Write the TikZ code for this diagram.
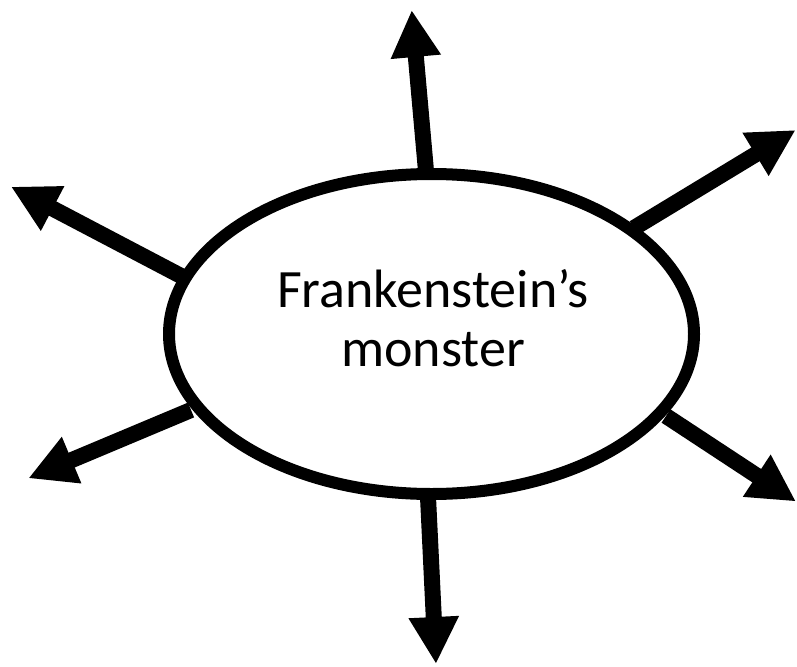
\documentclass[tikz,border=0pt]{standalone}
\usepackage{fontspec}
\setmainfont{Carlito}
\usetikzlibrary{arrows.meta,shapes.geometric}
\begin{document}
\begin{tikzpicture}[x=1pt,y=-1pt,
  arr/.style={line width=16pt, -{Triangle[length=47pt,width=47pt]}},
  hub/.style={draw, line width=12pt, ellipse, minimum width=525pt, minimum height=320pt, inner sep=0pt, outer sep=0pt, fill=white},
  lbl/.style={align=center, font=\fontsize{54}{58.5}\selectfont, inner sep=0pt}]
\useasboundingbox (0,0) rectangle (797,666);
% start points on the ellipse
\coordinate (s1) at (426,171);
\coordinate (s2) at (634,228);
\coordinate (s3) at (183,277);
\coordinate (s4) at (191,410);
\coordinate (s5) at (666,416);
\coordinate (s6) at (428,497);
% tips
\coordinate (t1) at (411.7,10);
\coordinate (t2) at (795.7,130);
\coordinate (t3) at (11,186.7);
\coordinate (t4) at (28.3,478.3);
\coordinate (t5) at (796,501.5);
\coordinate (t6) at (436,664);
\draw[arr] (s1) -- (t1);
\draw[arr] (s2) -- (t2);
\draw[arr] (s3) -- (t3);
\draw[arr] (s4) -- (t4);
\draw[arr] (s5) -- (t5);
\draw[arr] (s6) -- (t6);
\node[hub] (m) at (431.5,334) {};
\node[lbl] (txt) at (433,318) {Frankenstein’s\\monster};
\end{tikzpicture}
\end{document}
